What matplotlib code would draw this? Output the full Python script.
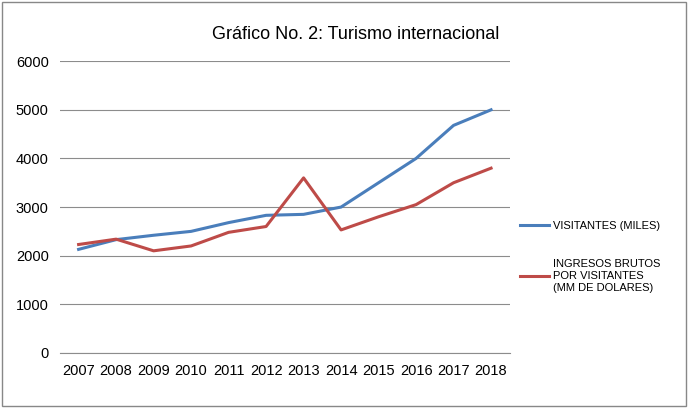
import matplotlib.pyplot as plt
from matplotlib.patches import Rectangle

years = ["2007", "2008", "2009", "2010", "2011", "2012",
         "2013", "2014", "2015", "2016", "2017", "2018"]
visitantes = [2130, 2330, 2420, 2500, 2680, 2830, 2850, 3000, 3500, 4000, 4680, 5000]
ingresos = [2230, 2340, 2100, 2200, 2480, 2600, 3600, 2530, 2800, 3050, 3500, 3800]

plt.rcParams["font.family"] = "Liberation Sans"

fig = plt.figure(figsize=(6.88, 4.08), dpi=100)
ax = fig.add_axes([0.087, 0.135, 0.654, 0.715])

x = range(len(years))
ax.plot(x, visitantes, color="#4a7ebb", lw=2.2, label="VISITANTES (MILES)")
ax.plot(x, ingresos, color="#be4b48", lw=2.2,
        label="INGRESOS BRUTOS\nPOR VISITANTES\n(MM DE DOLARES)")

ax.set_xlim(-0.5, len(years) - 0.5)
ax.set_ylim(0, 6000)
ax.set_yticks(range(0, 6001, 1000))
ax.set_xticks(list(x))
ax.set_xticklabels(years)
ax.tick_params(axis="both", length=0, labelsize=10.5, pad=8)
ax.grid(axis="y", color="#8c8c8c", lw=0.8)
ax.set_axisbelow(True)
for s in ["top", "right", "left"]:
    ax.spines[s].set_visible(False)
ax.spines["bottom"].set_color("#8c8c8c")

fig.text(0.517, 0.915, "Gráfico No. 2: Turismo internacional",
         ha="center", va="center", fontsize=13)

ax.legend(loc="center left", bbox_to_anchor=(1.0, 0.33), frameon=False,
          fontsize=8, labelspacing=2.6, handlelength=2.6, handletextpad=0.4)

fig.patches.append(Rectangle((0.003, 0.005), 0.994, 0.99, transform=fig.transFigure,
                             fill=False, edgecolor="#888888", lw=1))

fig.savefig("out.png", dpi=100)
plt.close(fig)
